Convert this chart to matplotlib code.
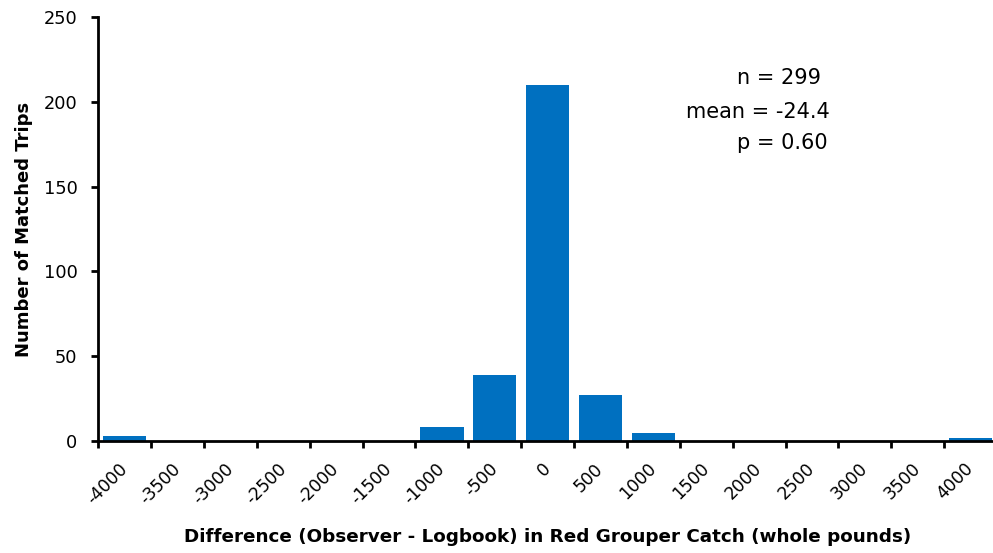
# Red grouper catch difference histogram (observer vs logbook)
import matplotlib.pyplot as plt
import numpy as np


BIN_LABELS = [
    "-4000", "-3500", "-3000", "-2500", "-2000", "-1500", "-1000", "-500",
    "0", "500", "1000", "1500", "2000", "2500", "3000", "3500", "4000",
]
TRIP_COUNTS = [3, 0, 0, 0, 0, 0, 8, 39, 210, 27, 5, 0, 0, 0, 0, 0, 2]
Y_TICKS = [0, 50, 100, 150, 200, 250]
STATS_LINES = ["n = 299", "mean = -24.4", "p = 0.60"]

BAR_COLOR = "#0070C0"


def main() -> None:
    plt.rcParams["font.family"] = ["DejaVu Sans"]

    fig = plt.figure(figsize=(9.93, 5.53), dpi=100)
    ax = fig.add_axes([0.099, 0.2025, 0.905, 0.7665])

    x = np.arange(len(BIN_LABELS))
    ax.bar(x, TRIP_COUNTS, width=0.82, color=BAR_COLOR, zorder=2)

    ax.set_xlim(-0.5, len(BIN_LABELS) - 0.5)
    ax.set_ylim(0, 250)
    ax.set_yticks(Y_TICKS)

    # labels sit on the categories, tick marks between them
    ax.set_xticks(x)
    ax.set_xticklabels(
        BIN_LABELS,
        rotation=45,
        ha="right",
        va="center",
        rotation_mode="anchor",
        fontsize=12.3,
    )
    ax.tick_params(axis="x", which="major", length=0, pad=18)
    ax.set_xticks(np.arange(len(BIN_LABELS) + 1) - 0.5, minor=True)
    ax.tick_params(axis="x", which="minor", length=5, width=2,
                   direction="out")
    ax.tick_params(axis="y", length=5, width=2, direction="out",
                   labelsize=12.8, pad=10)

    for side in ["top", "right"]:
        ax.spines[side].set_visible(False)
    for side in ["left", "bottom"]:
        ax.spines[side].set_linewidth(2)
        ax.spines[side].set_zorder(3)

    ax.set_ylabel("Number of Matched Trips", fontsize=13,
                  fontweight="bold")
    ax.yaxis.set_label_coords(-0.0727, 0.5)
    ax.set_xlabel(
        "Difference (Observer - Logbook) in Red Grouper Catch (whole pounds)",
        fontsize=13.2,
        fontweight="bold",
    )
    ax.xaxis.set_label_coords(0.5, -0.205)

    stat_x = [0.742, 0.691, 0.742]
    stat_y = [0.859, 0.797, 0.741]
    for text, sx, sy in zip(STATS_LINES, stat_x, stat_y):
        fig.text(sx, sy, text, fontsize=15, ha="left", va="center")

    fig.savefig("out.png", dpi=100)
    plt.close(fig)


if __name__ == "__main__":
    main()
